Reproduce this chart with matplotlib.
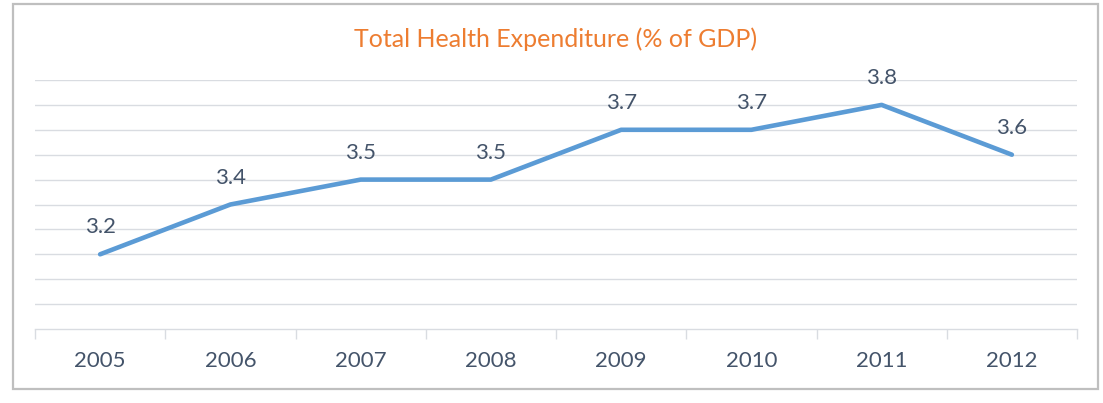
import matplotlib
matplotlib.use('Agg')
import matplotlib.pyplot as plt
import matplotlib.patches as patches

years = ['2005', '2006', '2007', '2008', '2009', '2010', '2011', '2012']
health_exp = [3.2, 3.4, 3.5, 3.5, 3.7, 3.7, 3.8, 3.6]

W, H = 1103, 403
plt.rcParams['font.family'] = ['Lato', 'DejaVu Sans']

fig = plt.figure(figsize=(W / 100, H / 100), dpi=100)
fig.patch.set_facecolor('white')

# outer chart frame
frame = patches.Rectangle((13 / W, 1 - 389 / H), (1098 - 13) / W, (389 - 4) / H,
                          transform=fig.transFigure, fill=False,
                          edgecolor='#bfbfbf', linewidth=1.6)
fig.patches.append(frame)

ax = fig.add_axes([35 / W, 1 - 329 / H, (1077 - 35) / W, (329 - 80) / H])
x = list(range(len(years)))
ax.plot(x, health_exp, color='#5b9bd5', linewidth=3.3, solid_capstyle='round',
        solid_joinstyle='round', zorder=3)

for xi, v in zip(x, health_exp):
    ax.annotate('%.1f' % v, (xi, v), xytext=(0, 17), textcoords='offset pixels',
                ha='center', va='bottom', fontsize=16, color='#44546a')

ax.set_xlim(-0.5, len(years) - 0.5)
ax.set_ylim(2.9, 3.9)
for g in [3.0, 3.1, 3.2, 3.3, 3.4, 3.5, 3.6, 3.7, 3.8, 3.9]:
    ax.axhline(g, color='#d9dce1', linewidth=1.0, zorder=1)

for s in ['top', 'right', 'left']:
    ax.spines[s].set_visible(False)
ax.spines['bottom'].set_color('#d9dce1')
ax.spines['bottom'].set_linewidth(1.0)

ax.set_yticks([])
ax.set_xticks([i - 0.5 for i in range(len(years) + 1)], minor=False)
ax.set_xticklabels([])
ax.tick_params(axis='x', which='major', length=7, color='#d9dce1', width=1.0)
ax.set_xticks(x, minor=True)
ax.set_xticklabels(years, minor=True)
ax.tick_params(axis='x', which='minor', length=0, pad=16, labelsize=16,
               labelcolor='#44546a')

fig.text((348 + 763) / 2 / W, 1 - 39 / H, 'Total Health Expenditure (% of GDP)',
         ha='center', va='center', fontsize=18, color='#ed7d31')

fig.savefig('out.png', dpi=100)
